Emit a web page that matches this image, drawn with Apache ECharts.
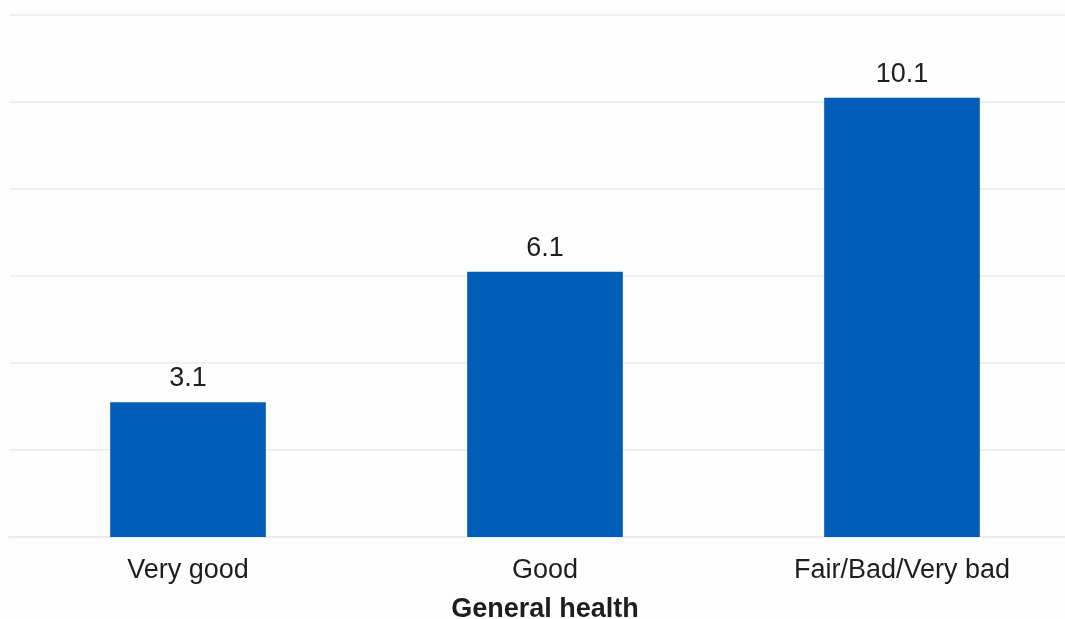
<!DOCTYPE html>
<html>
<head>
<meta charset="utf-8">
<script src="https://cdn.jsdelivr.net/npm/echarts@6/dist/echarts.min.js"></script>
<style>
  html, body { margin: 0; padding: 0; background: #fdfdfd; }
  #chart { width: 1065px; height: 619px; }
</style>
</head>
<body>
<div id="chart"></div>
<script>
// Percentage by self-reported general health
const categories = ['Very good', 'Good', 'Fair/Bad/Very bad'];
const values = [3.1, 6.1, 10.1];
const axisTitle = 'General health';

const chart = echarts.init(document.getElementById('chart'), null, { renderer: 'canvas' });
chart.setOption({
  backgroundColor: '#fdfdfd',
  animation: false,
  textStyle: { fontFamily: '"Liberation Sans", Arial, sans-serif' },
  grid: { left: 9.5, top: 15, width: 1071, height: 522, containLabel: false, outerBoundsMode: 'none' },
  xAxis: {
    type: 'category',
    data: categories,
    name: axisTitle,
    nameLocation: 'middle',
    nameGap: 59,
    nameTextStyle: { fontSize: 27, fontWeight: 'bold', color: '#1e1e1e' },
    axisLine: { show: true, lineStyle: { color: '#ececec', width: 2 } },
    axisTick: { show: false },
    axisLabel: { fontSize: 27, color: '#1e1e1e', margin: 20 }
  },
  yAxis: {
    type: 'value',
    min: 0,
    max: 12,
    interval: 2,
    axisLabel: { show: false },
    axisLine: { show: false },
    axisTick: { show: false },
    splitLine: { lineStyle: { color: '#efefef', width: 2 } }
  },
  series: [{
    type: 'bar',
    data: values,
    barWidth: '43.6%',
    itemStyle: { color: '#005EB8' },
    label: {
      show: true,
      position: 'top',
      distance: 10,
      fontSize: 27,
      color: '#1e1e1e'
    }
  }]
});
</script>
</body>
</html>
